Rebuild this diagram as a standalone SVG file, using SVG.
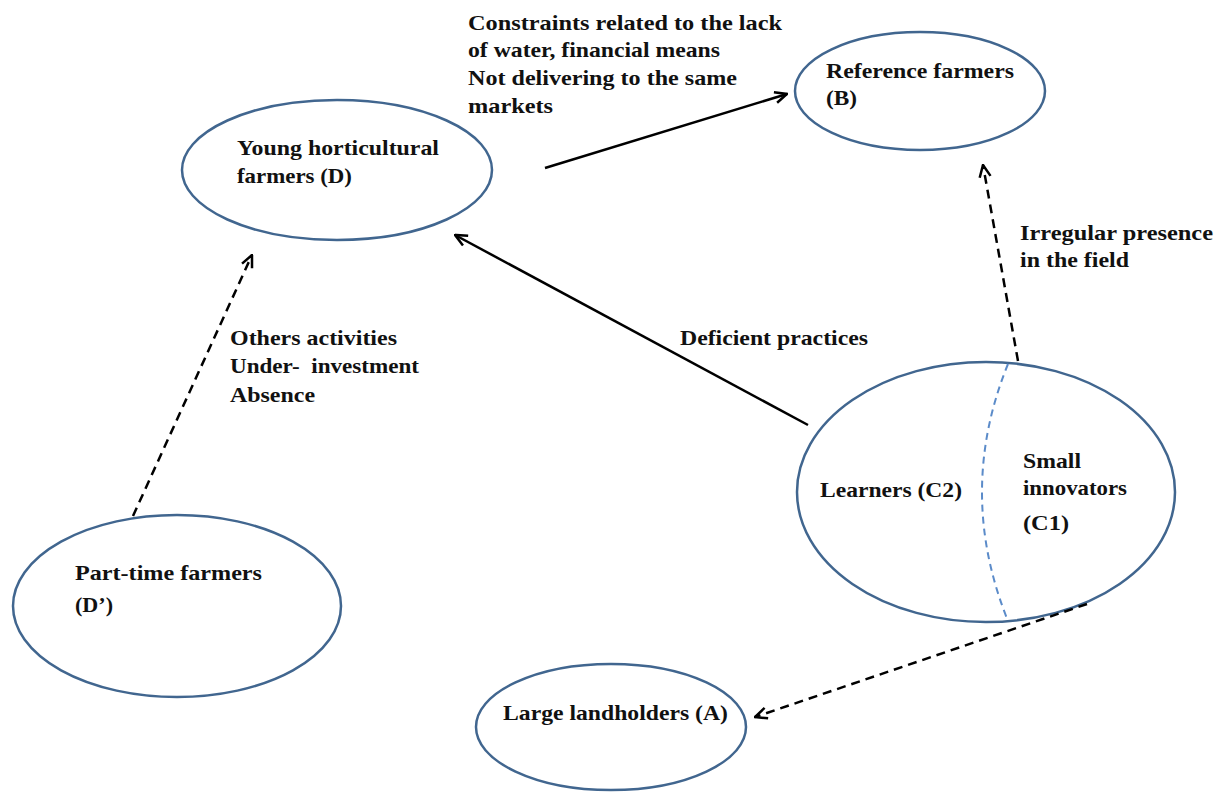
<svg xmlns="http://www.w3.org/2000/svg" width="1224" height="794" viewBox="0 0 1224 794">
<style>
.node{fill:#fff;stroke:#41668F;stroke-width:2.5}
.t{font-family:"Liberation Serif","Times New Roman",serif;font-weight:bold;font-size:22px;fill:#111}
.c{fill:none;stroke:#000;stroke-width:2.5}
.d{stroke-dasharray:9,6}
.div{fill:none;stroke:#5B8BC9;stroke-width:2;stroke-dasharray:7,5}
</style>
<defs>
<marker id="ah" viewBox="0 0 14 14" refX="13" refY="7" markerWidth="14" markerHeight="14" markerUnits="userSpaceOnUse" orient="auto">
<path d="M1,1.5 L13,7 L1,12.5" fill="none" stroke="#000" stroke-width="2.5"/>
</marker>
</defs>
<rect width="1224" height="794" fill="#fff"/>
<g id="node-D">
<ellipse class="node" cx="337" cy="170" rx="155" ry="70"/>
<text class="t" x="237" y="155" textLength="202" lengthAdjust="spacingAndGlyphs">Young horticultural</text>
<text class="t" x="237" y="183" textLength="115" lengthAdjust="spacingAndGlyphs">farmers (D)</text>
</g>
<g id="node-B">
<ellipse class="node" cx="920" cy="91" rx="125" ry="59"/>
<text class="t" x="826" y="78" textLength="188" lengthAdjust="spacingAndGlyphs">Reference farmers</text>
<text class="t" x="826" y="105" textLength="31" lengthAdjust="spacingAndGlyphs">(B)</text>
</g>
<g id="node-C">
<ellipse class="node" cx="986" cy="492" rx="189" ry="130"/>
<path class="div" d="M1008,364 Q956,492 1008,621"/>
<text class="t" x="820" y="497" textLength="142" lengthAdjust="spacingAndGlyphs">Learners (C2)</text>
<text class="t" x="1023" y="468" textLength="58" lengthAdjust="spacingAndGlyphs">Small</text>
<text class="t" x="1023" y="495" textLength="104" lengthAdjust="spacingAndGlyphs">innovators</text>
<text class="t" x="1023" y="530" textLength="46" lengthAdjust="spacingAndGlyphs">(C1)</text>
</g>
<g id="node-Dp">
<ellipse class="node" cx="177" cy="606" rx="164" ry="91"/>
<text class="t" x="75" y="580" textLength="187" lengthAdjust="spacingAndGlyphs">Part-time farmers</text>
<text class="t" x="75" y="612" textLength="38" lengthAdjust="spacingAndGlyphs">(D’)</text>
</g>
<g id="node-A">
<ellipse class="node" cx="611" cy="727" rx="135" ry="63"/>
<text class="t" x="503" y="720" textLength="225" lengthAdjust="spacingAndGlyphs">Large landholders (A)</text>
</g>
<g id="connectors">
<line class="c" x1="545" y1="168" x2="787" y2="94" marker-end="url(#ah)"/>
<line class="c" x1="808" y1="425" x2="455" y2="235" marker-end="url(#ah)"/>
<line class="c d" x1="1018" y1="361" x2="983" y2="165" marker-end="url(#ah)"/>
<line class="c d" x1="133" y1="516" x2="252" y2="255" marker-end="url(#ah)"/>
<line class="c d" x1="1087" y1="604" x2="755" y2="717" marker-end="url(#ah)"/>
</g>
<g id="labels">
<text class="t" x="468" y="30" textLength="314" lengthAdjust="spacingAndGlyphs">Constraints related to the lack</text>
<text class="t" x="468" y="57" textLength="252" lengthAdjust="spacingAndGlyphs">of water, financial means</text>
<text class="t" x="468" y="85" textLength="269" lengthAdjust="spacingAndGlyphs">Not delivering to the same</text>
<text class="t" x="468" y="113" textLength="85" lengthAdjust="spacingAndGlyphs">markets</text>
<text class="t" x="230" y="345" textLength="167" lengthAdjust="spacingAndGlyphs">Others activities</text>
<text class="t" x="230" y="373" textLength="189" lengthAdjust="spacingAndGlyphs" xml:space="preserve">Under-  investment</text>
<text class="t" x="230" y="402" textLength="85" lengthAdjust="spacingAndGlyphs">Absence</text>
<text class="t" x="680" y="345" textLength="188" lengthAdjust="spacingAndGlyphs">Deficient practices</text>
<text class="t" x="1020" y="240" textLength="193" lengthAdjust="spacingAndGlyphs">Irregular presence</text>
<text class="t" x="1020" y="267" textLength="109" lengthAdjust="spacingAndGlyphs">in the field</text>
</g>
</svg>
